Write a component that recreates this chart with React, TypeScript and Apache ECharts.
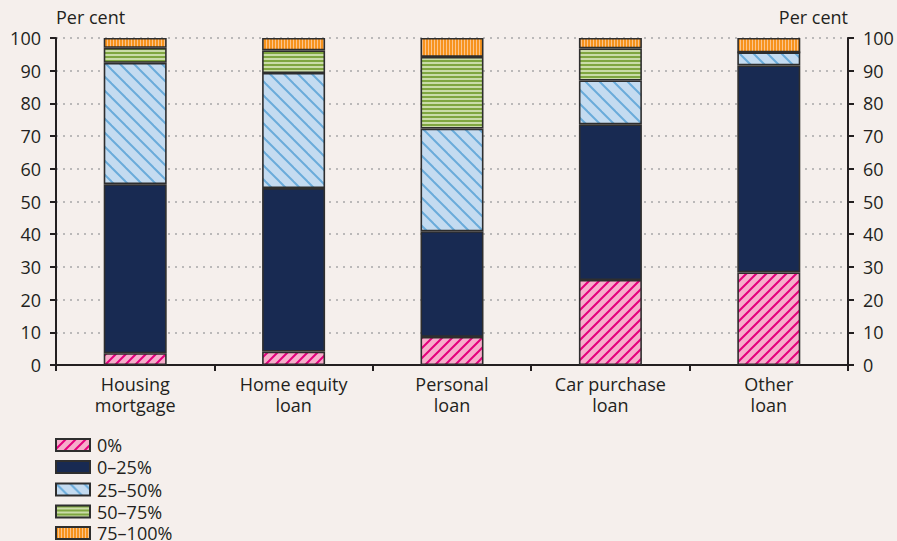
import React, { useEffect, useRef } from "react";
import * as echarts from "echarts";

const categories = ["Housing\nmortgage", "Home equity\nloan", "Personal\nloan", "Car purchase\nloan", "Other\nloan"];
const seriesNames = ["0%", "0–25%", "25–50%", "50–75%", "75–100%"];
const pct0 = [3.6, 4.1, 8.6, 26.0, 28.3];
const pct0to25 = [51.7, 50.0, 32.3, 47.6, 63.3];
const pct25to50 = [37.1, 35.2, 31.4, 13.4, 4.0];
const pct50to75 = [4.6, 6.9, 21.9, 9.8, 0];
const pct75to100 = [3.0, 3.8, 5.8, 3.2, 4.4];
const yTicks = { min: 0, max: 100, interval: 10 };
const axisName = "Per cent";

const FONT = "'Open Sans', sans-serif";
const TEXT = "#231F20";

function diagTile(p: number, bg: string, fg: string, dir: "up" | "down", lw: number) {
  const c = document.createElement("canvas");
  c.width = p;
  c.height = p;
  const g = c.getContext("2d")!;
  g.fillStyle = bg;
  g.fillRect(0, 0, p, p);
  g.strokeStyle = fg;
  g.lineWidth = lw;
  g.lineCap = "square";
  const seg = (x1: number, y1: number, x2: number, y2: number) => {
    g.beginPath();
    g.moveTo(x1, y1);
    g.lineTo(x2, y2);
    g.stroke();
  };
  if (dir === "up") {
    seg(0, p, p, 0);
    seg(-1, 1, 1, -1);
    seg(p - 1, p + 1, p + 1, p - 1);
  } else {
    seg(0, 0, p, p);
    seg(-1, p - 1, 1, p + 1);
    seg(p - 1, -1, p + 1, 1);
  }
  return c;
}

function stripeTile(w: number, h: number, bg: string, fg: string, horizontal: boolean, band: number) {
  const c = document.createElement("canvas");
  c.width = w;
  c.height = h;
  const g = c.getContext("2d")!;
  g.fillStyle = bg;
  g.fillRect(0, 0, w, h);
  g.fillStyle = fg;
  if (horizontal) g.fillRect(0, 0, w, band);
  else g.fillRect(0, 0, band, h);
  return c;
}

export default function App() {
  const ref = useRef<HTMLDivElement>(null);
  useEffect(() => {
    document.body.style.margin = "0";
    const chart = echarts.init(ref.current!, null, { renderer: "svg" });
    const border = { borderColor: "#2E2E2E", borderWidth: 1.6 };
    const styles: any[] = [
      { color: { image: diagTile(10, "#F6AECB", "#E4007D", "up", 2), repeat: "repeat" }, ...border },
      { color: "#182A52", ...border },
      { color: { image: diagTile(14, "#C4DBF0", "#6AABDA", "down", 2), repeat: "repeat" }, ...border },
      { color: { image: stripeTile(4, 4, "#CADCA8", "#7FA640", true, 2), repeat: "repeat" }, ...border },
      { color: { image: stripeTile(3, 4, "#FBC48C", "#F7931D", false, 2), repeat: "repeat" }, ...border },
    ];
    const data = [pct0, pct0to25, pct25to50, pct50to75, pct75to100];
    const yAxisBase = {
      type: "value",
      min: yTicks.min,
      max: yTicks.max,
      interval: yTicks.interval,
      axisLine: { show: true, lineStyle: { color: TEXT, width: 2 } },
      axisTick: { show: true, length: 6, lineStyle: { color: TEXT, width: 2 } },
      axisLabel: { fontSize: 18, color: TEXT, fontFamily: FONT, margin: 15 },
      name: axisName,
      nameLocation: "end",
      nameGap: 12,
    };
    const legendTops = [436, 458, 480.5, 502.5, 524];
    chart.setOption({
      animation: false,
      backgroundColor: "#F5EFEC",
      textStyle: { fontFamily: FONT },
      grid: { left: 56, right: 49, top: 38, bottom: 176, containLabel: false },
      legend: seriesNames.map((name, i) => ({
        orient: "vertical",
        left: 55,
        top: legendTops[i],
        padding: 0,
        itemWidth: 34,
        itemHeight: 12,
        itemGap: 0,
        icon: "rect",
        textStyle: { fontSize: 18, lineHeight: 16, color: TEXT, fontFamily: FONT, padding: [0, 0, 0, 2] },
        data: [name],
      })),
      xAxis: {
        type: "category",
        data: categories,
        axisLine: { lineStyle: { color: TEXT, width: 2 } },
        axisTick: { show: true, length: 6, alignWithLabel: false, lineStyle: { color: TEXT, width: 2 } },
        axisLabel: { interval: 0, fontSize: 18, lineHeight: 21, color: TEXT, fontFamily: FONT, margin: 8 },
      },
      yAxis: [
        {
          ...yAxisBase,
          position: "left",
          nameTextStyle: { align: "left", fontSize: 18, color: TEXT, fontFamily: FONT },
          splitLine: { show: true, lineStyle: { color: "#A8A8A8", width: 1.5, type: [2, 5] } },
        },
        {
          ...yAxisBase,
          position: "right",
          nameTextStyle: { align: "right", fontSize: 18, color: TEXT, fontFamily: FONT },
          splitLine: { show: false },
        },
      ],
      series: seriesNames.map((name, i) => ({
        name,
        type: "bar",
        stack: "total",
        barWidth: 63,
        data: data[i],
        itemStyle: styles[i],
      })),
    });
    return () => chart.dispose();
  }, []);
  return <div ref={ref} style={{ width: 897, height: 541 }} />;
}
